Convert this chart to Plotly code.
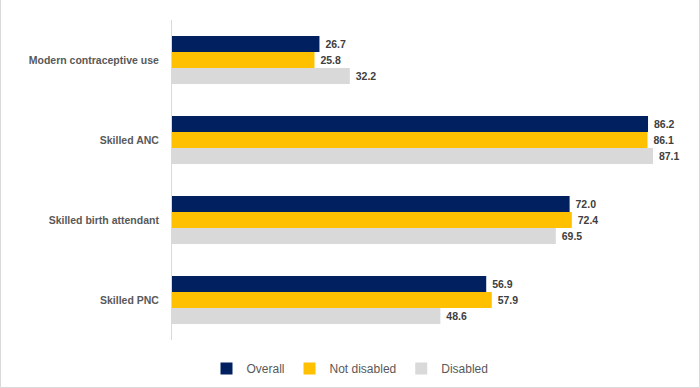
import plotly.graph_objects as go

categories = ["Modern contraceptive use", "Skilled ANC", "Skilled birth attendant", "Skilled PNC"]
overall = [26.7, 86.2, 72.0, 56.9]
not_disabled = [25.8, 86.1, 72.4, 57.9]
disabled = [32.2, 87.1, 69.5, 48.6]

series = [("Overall", overall, "#002060"),
          ("Not disabled", not_disabled, "#FFC000"),
          ("Disabled", disabled, "#D9D9D9")]

fig = go.Figure()
for name, vals, col in series:
    fig.add_trace(go.Bar(
        y=categories, x=vals, name=name, orientation="h",
        marker=dict(color=col, line=dict(width=0)),
        text=["\u00a0" + f"{v:.1f}" for v in vals], textposition="outside",
        textfont=dict(family="Liberation Sans", size=10.5, color="#404040", weight="bold"),
        cliponaxis=False,
    ))

L, R, T, B = 172, 10, 20, 48
W, H = 700, 388
pw, ph = W - L - R, H - T - B

fig.update_layout(
    width=W, height=H,
    margin=dict(l=L, r=R, t=T, b=B),
    paper_bgcolor="white", plot_bgcolor="white",
    barmode="group", bargap=0.4, bargroupgap=0,
    font=dict(family="Liberation Sans", color="#595959"),
    showlegend=True,
    legend=dict(orientation="h", x=0.5, xanchor="center", xref="container",
                y=0.05, yanchor="middle", yref="container",
                font=dict(size=12, color="#595959"), traceorder="normal",
                itemwidth=30, tracegroupgap=0),
    xaxis=dict(range=[0, 93.8], showgrid=False, zeroline=False, showticklabels=False,
               showline=False, ticks=""),
    yaxis=dict(autorange="reversed", showgrid=False, zeroline=False,
               showline=True, linecolor="#D9D9D9", linewidth=1,
               ticks="", ticklabelstandoff=10,
               tickfont=dict(family="Liberation Sans", size=10.5, color="#595959", weight="bold")),
    shapes=[dict(type="rect", xref="paper", yref="paper",
                 x0=(0.5 - L) / pw, x1=(W - 0.5 - L) / pw,
                 y0=-(H - 0.5 - (T + ph)) / ph, y1=(H - 0.5 - T) / ph,
                 line=dict(color="#D9D9D9", width=1), fillcolor="rgba(0,0,0,0)")],
)

fig.write_html("out.html", config={"displayModeBar": False},
               post_script="document.body.style.margin='0';document.body.style.overflow='hidden';")
